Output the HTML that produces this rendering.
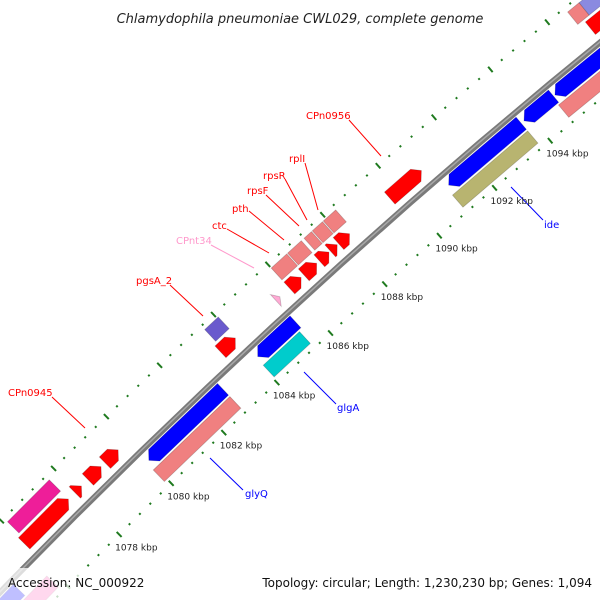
<!DOCTYPE html>
<html><head><meta charset="utf-8"><style>
html,body{margin:0;padding:0;background:#fff;overflow:hidden;width:600px;height:600px;}
svg{display:block;font-family:"DejaVu Sans","Liberation Sans",sans-serif;}
</style></head><body>
<svg id="map" width="600" height="600" viewBox="0 0 600 600" xmlns="http://www.w3.org/2000/svg" overflow="hidden">
<rect width="600" height="600" fill="#fff"/>
<g id="ticks"></g>
<g id="backbone"></g>
<g id="feats"></g>
<g id="labels"></g>
<g id="ticklabels"></g>
<text x="300" y="23" text-anchor="middle" font-size="13" font-style="italic" fill="#222">Chlamydophila pneumoniae CWL029, complete genome</text>
<rect x="0" y="568" width="600" height="32" fill="#fff" opacity="0.75"/>
<text x="8" y="587" font-size="12" fill="#111">Accession: NC_000922</text>
<text x="592" y="587" text-anchor="end" font-size="12" fill="#111">Topology: circular; Length: 1,230,230 bp; Genes: 1,094</text>
</svg>
<script>
// feature data (kbp)
const featStart = [1072,1080.0,1084.1,1091.1,1093.8,1094.9, 1072,1079.9,1084.05,1091.0,1094.8, 1076.0,1077.95,1078.45,1079.1,1083.45,1086.0,1086.53,1087.1,1087.5,1087.8,1089.66,1085.5,1096.8, 1076.1,1083.55,1086.0,1086.6,1087.2,1087.5,1087.9,1096.6,1097.0];
const featEnd   = [1075.0,1082.8,1085.5,1093.7,1094.85,1098, 1075.8,1082.8,1085.4,1093.7,1098, 1077.7,1078.2,1078.95,1079.6,1084.0,1086.43,1087.0,1087.45,1087.75,1088.2,1090.8,1085.65,1098, 1077.7,1084.05,1086.57,1087.1,1087.47,1087.87,1088.35,1097.0,1099];
const featStrand= [-1,-1,-1,-1,-1,-1, -1,-1,-1,-1,-1, 1,1,1,1,1,1,1,1,1,1,1,1,1, 1,1,1,1,1,1,1,1,1];
const featSlot  = [1,1,1,1,1,1, 2,2,2,2,2, 1,1,1,1,1,1,1,1,1,1,1,1,1, 2,2,2,2,2,2,2,2,2];
const featColor = ["#0000ff","#0000ff","#0000ff","#0000ff","#0000ff","#0000ff",
 "#ff66bb","#f08080","#00cccc","#b8b470","#f08080",
 "#ff0000","#ff0000","#ff0000","#ff0000","#ff0000","#ff0000","#ff0000","#ff0000","#ff0000","#ff0000","#ff0000","#ffaad4","#ff0000",
 "#ee1e99","#6a5acd","#f08080","#f08080","#f08080","#f08080","#f08080","#f08080","#8a8ae0"];
const tickMajor = [1074,1076,1078,1080,1082,1084,1086,1088,1090,1092,1094,1096,1098];
const tickLabels = ["1074 kbp","1076 kbp","1078 kbp","1080 kbp","1082 kbp","1084 kbp","1086 kbp","1088 kbp","1090 kbp","1092 kbp","1094 kbp","1096 kbp","1098 kbp"];
const labelText = ["CPn0945","pgsA_2","CPnt34","ctc","pth","rpsF","rpsR","rplI","CPn0956","glyQ","glgA","ide"];
const labelColor= ["#ff0000","#ff0000","#ff99cc","#ff0000","#ff0000","#ff0000","#ff0000","#ff0000","#ff0000","#0000ff","#0000ff","#0000ff"];
const labelPos  = [[8,396],[136,284],[176,244],[212,229],[232,212],[247,194],[263,179],[289,162],[306,119],[245,497],[337,411],[544,228]];
const labelLine = [[52,397,85,428],[170,285,203,316],[211,245,254,268],[227,229,269,253],[249,211,284,240],[266,195,299,226],[285,179,307,220],[305,163,318,210],[349,120,381,156],[210,458,243,490],[304,372,336,404],[511,187,543,220]];

const CX=5032, CY=5480, R0=7015;
const NS="http://www.w3.org/2000/svg";
function pos(k,r){const p=(-134.21+(k-1080)*0.3)*Math.PI/180;return [CX+r*Math.cos(p),CY+r*Math.sin(p)];}
function mk(tag,attrs,parent){const e=document.createElementNS(NS,tag);for(const a in attrs)e.setAttribute(a,attrs[a]);parent.appendChild(e);return e;}
function arcPath(k1,k2,r){let d="";const n=20;for(let i=0;i<=n;i++){const p=pos(k1+(k2-k1)*i/n,r);d+=(i?"L":"M")+p[0].toFixed(2)+","+p[1].toFixed(2);}return d;}

// backbone
const bb=document.getElementById('backbone');
let e=mk('path',{d:arcPath(1060,1110,R0),stroke:'#7a7a7a','stroke-width':6,fill:'none'},bb);

e=mk('path',{d:arcPath(1060,1110,R0+0.5),stroke:'#a8a8a8','stroke-width':1.5,fill:'none'},bb);


// ticks
const tg=document.getElementById('ticks');
[R0-44,R0+49].forEach((r,ri)=>{
  for(let k=1070;k<=1102.01;k+=0.4){
    const kk=Math.round(k*10)/10;
    const major=Math.abs(kk/2-Math.round(kk/2))<1e-6;
    const a=pos(kk,r-(major?3.5:1)), b=pos(kk,r+(major?3.5:1));
    const t=mk('line',{x1:a[0],y1:a[1],x2:b[0],y2:b[1],stroke:'#1f7a1f','stroke-width':2},tg);
    
    
  }
});
const tl=document.getElementById('ticklabels');
tickMajor.forEach((k,i)=>{
  const p=pos(k,R0-44);
  if(p[1]+16>565||p[1]+16<30||p[0]>560) return;
  const t=mk('text',{x:p[0]-4,y:p[1]+16,'font-size':9,fill:'#222'},tl);
  t.textContent=tickLabels[i];
  
  
});

// features
const fg=document.getElementById('feats');
const slotR={"1":17,"2":36,"-1":-12,"-2":-30};
featStart.forEach((k1,i)=>{
  const k2=featEnd[i], s=featStrand[i], sl=featSlot[i];
  const rc=R0+slotR[String(s*sl)], h=8;
  const arrow = sl===1 ? 0.2 : 0;
  let pts=[];
  if(arrow && s===1){
    const kb=Math.max(k1,k2-arrow);
    pts=[pos(k1,rc-h),pos(kb,rc-h),pos(k2,rc),pos(kb,rc+h),pos(k1,rc+h)];
  } else if(arrow && s===-1){
    const kb=Math.min(k2,k1+arrow);
    pts=[pos(k1,rc),pos(kb,rc-h),pos(k2,rc-h),pos(k2,rc+h),pos(kb,rc+h)];
  } else {
    pts=[pos(k1,rc-h),pos(k2,rc-h),pos(k2,rc+h),pos(k1,rc+h)];
  }
  const f=mk('polygon',{points:pts.map(p=>p[0].toFixed(2)+","+p[1].toFixed(2)).join(" "),fill:featColor[i],stroke:'rgba(0,0,0,0.2)','stroke-width':0.8},fg);
  
  
});

// labels
const lg=document.getElementById('labels');
labelText.forEach((t,i)=>{
  const L=labelLine[i];
  const l=mk('line',{x1:L[0],y1:L[1],x2:L[2],y2:L[3],stroke:labelColor[i],'stroke-width':1},lg);
  
  
  const tx=mk('text',{x:labelPos[i][0],y:labelPos[i][1],'font-size':10,fill:labelColor[i]},lg);
  tx.textContent=t;
  
  
});
</script>
</body></html>
